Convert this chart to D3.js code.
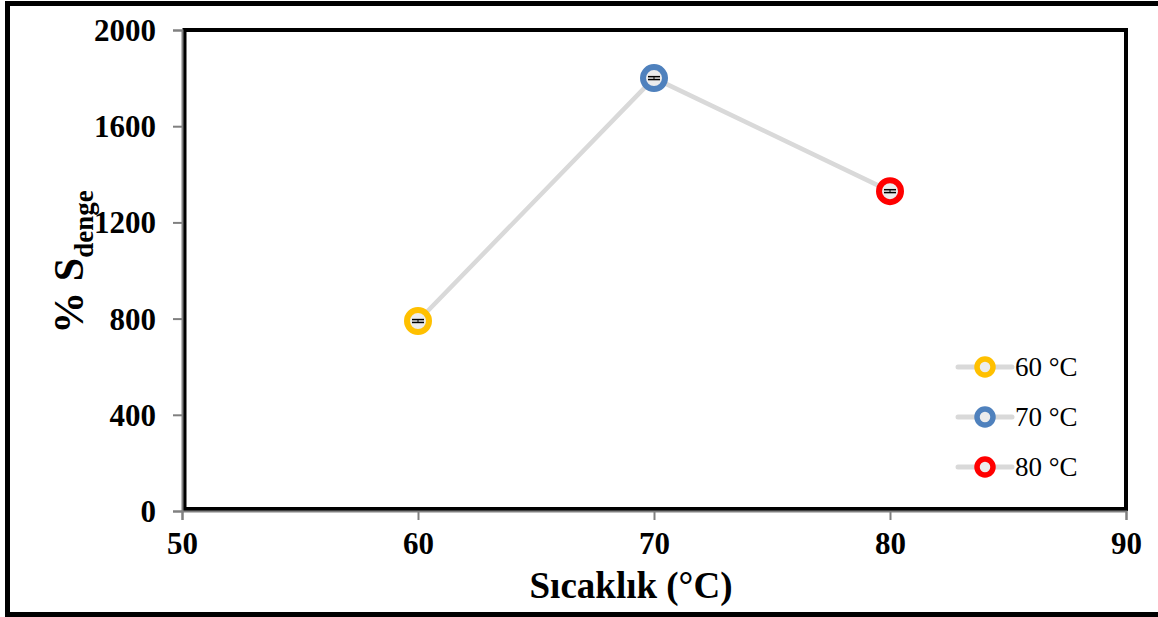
<!DOCTYPE html>
<html>
<head>
<meta charset="utf-8">
<script src="https://cdn.jsdelivr.net/npm/d3@7"></script>
<style>
  html, body { margin: 0; padding: 0; background: #fff; }
  svg { display: block; }
</style>
</head>
<body>
<svg id="chart" width="1158" height="617"></svg>
<script>
// Equilibrium swelling (% S_denge) against temperature
const temperatures = [60, 70, 80];
const swelling = [790, 1800, 1330];
const swellingErr = [6, 6, 6];
const seriesLabels = ["60 °C", "70 °C", "80 °C"];
const seriesColors = ["#ffc000", "#4f81bd", "#ff0000"];
const xTicks = [50, 60, 70, 80, 90];
const yTicks = [0, 400, 800, 1200, 1600, 2000];

const W = 1158, H = 617;
const margin = { left: 182, top: 30, right: W - 1126, bottom: H - 511 };
const svg = d3.select("#chart");

const x = d3.scaleLinear().domain([50, 90]).range([margin.left, W - margin.right]);
const y = d3.scaleLinear().domain([0, 2000]).range([H - margin.bottom, margin.top]);

// outer frame
svg.append("rect")
  .attr("x", 7.5).attr("y", 3.5)
  .attr("width", W + 10).attr("height", 611)
  .attr("fill", "none").attr("stroke", "#000").attr("stroke-width", 5);

// plot area frame
svg.append("rect")
  .attr("x", x(50) + 2.5).attr("y", y(2000))
  .attr("width", x(90) - x(50) - 2.5).attr("height", y(0) - y(2000) - 2)
  .attr("fill", "none").attr("stroke", "#000").attr("stroke-width", 4);

// axes
const serif = "'Liberation Serif', 'Times New Roman', serif";
const yAxis = svg.append("g")
  .attr("transform", `translate(${x(50)},0)`)
  .call(d3.axisLeft(y).tickValues(yTicks).tickSize(9).tickPadding(17).tickFormat(d3.format("d")));
const xAxis = svg.append("g")
  .attr("transform", `translate(0,${y(0)})`)
  .call(d3.axisBottom(x).tickValues(xTicks).tickSize(9).tickPadding(12).tickFormat(d3.format("d")));
[yAxis, xAxis].forEach(g => {
  g.attr("font-family", serif).attr("font-size", 31);
  g.select(".domain").attr("stroke", "#808080").attr("stroke-width", 2);
  g.selectAll(".tick line").attr("stroke", "#808080").attr("stroke-width", 2);
  g.selectAll(".tick text")
    .attr("font-family", serif).attr("font-weight", "bold")
    .attr("font-size", 31).attr("fill", "#000");
});
yAxis.selectAll(".tick text").attr("dy", "0.34em");
xAxis.selectAll(".tick text").attr("dy", "0.72em");

// axis titles
svg.append("text")
  .attr("x", 631).attr("y", 598)
  .attr("text-anchor", "middle")
  .attr("font-family", serif).attr("font-weight", "bold").attr("font-size", 37)
  .text("Sıcaklık (°C)");

const yTitle = svg.append("text")
  .attr("transform", `translate(83,${262}) rotate(-90)`)
  .attr("text-anchor", "middle")
  .attr("font-family", serif).attr("font-weight", "bold").attr("font-size", 42);
yTitle.append("tspan").text("% S");
yTitle.append("tspan").attr("font-size", 27).attr("dy", 10).text("denge");

// connecting line
const pts = temperatures.map((t, i) => ({ t, v: swelling[i], e: swellingErr[i], c: seriesColors[i], label: seriesLabels[i] }));
svg.append("path")
  .datum(pts)
  .attr("fill", "none").attr("stroke", "#d9d9d9").attr("stroke-width", 4.5)
  .attr("d", d3.line().x(d => x(d.t)).y(d => y(d.v)));

// markers with error bars
const mk = svg.append("g").selectAll("g").data(pts).join("g")
  .attr("transform", d => `translate(${x(d.t)},${y(d.v)})`);
mk.append("circle")
  .attr("r", 11).attr("fill", "#ececec")
  .attr("stroke", d => d.c).attr("stroke-width", 6);
mk.append("line")
  .attr("x1", 0).attr("x2", 0)
  .attr("y1", d => y(d.v - d.e) - y(d.v)).attr("y2", d => y(d.v + d.e) - y(d.v))
  .attr("stroke", "#000").attr("stroke-width", 1);
mk.selectAll("line.cap").data(d => [d.v - d.e, d.v + d.e].map(v => y(v) - y(d.v)))
  .join("line").attr("class", "cap")
  .attr("x1", -6).attr("x2", 6).attr("y1", d => d).attr("y2", d => d)
  .attr("stroke", "#000").attr("stroke-width", 1.5);

// legend
const lg = svg.append("g").selectAll("g").data(pts).join("g")
  .attr("transform", (d, i) => `translate(985,${367 + i * 50})`);
lg.append("line")
  .attr("x1", -27).attr("x2", 27)
  .attr("stroke", "#d9d9d9").attr("stroke-width", 5).attr("stroke-linecap", "round");
lg.append("circle")
  .attr("r", 8).attr("fill", "#ececec")
  .attr("stroke", d => d.c).attr("stroke-width", 5.5);
lg.append("text")
  .attr("x", 30).attr("dy", "0.35em")
  .attr("font-family", serif).attr("font-size", 27)
  .text(d => d.label);
</script>
</body>
</html>
